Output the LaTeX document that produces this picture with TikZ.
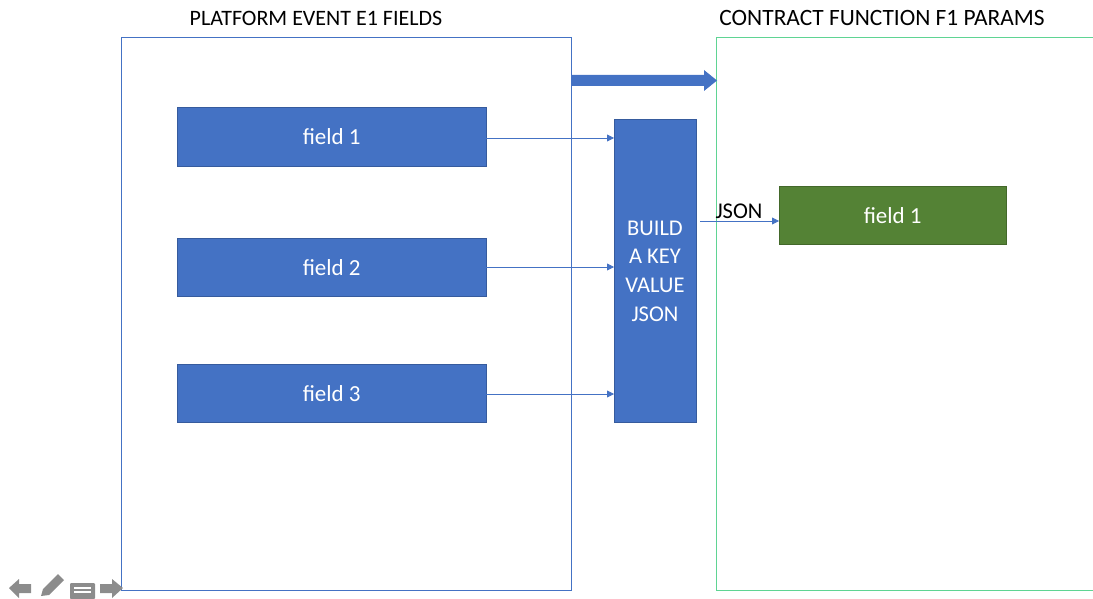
\documentclass[tikz,border=0pt]{standalone}
\usepackage{fontspec}
\setmainfont{Carlito}
\usetikzlibrary{arrows.meta,shapes.arrows}
\definecolor{ppblue}{HTML}{4472C4}
\definecolor{ppgreen}{HTML}{548235}
\definecolor{lgreen}{HTML}{5FD493}
\definecolor{icon}{HTML}{8C8C8C}
\begin{document}
\begin{tikzpicture}[x=1pt,y=-1pt,
  frame/.style={draw, line width=0.9pt},
  field/.style={draw=ppblue!80!black, line width=0.4pt, fill=ppblue, text=white, font=\fontsize{23}{26}\selectfont, inner sep=0pt},
  conn/.style={draw=ppblue, line width=0.8pt, -{Triangle[length=7pt,width=7pt]}},
  title/.style={font=\fontsize{22}{24}\selectfont, text=black}
]
\useasboundingbox (0,0) rectangle (1093,599);
% frames
\node[frame, draw=ppblue, minimum width=450pt, minimum height=553pt, anchor=north west, inner sep=0pt] (left) at (121,37) {};
\path[frame, draw=lgreen] (1093,37) -- (716,37) -- (716,590) -- (1093,590);
\coordinate (rtl) at (716,37);
\node[title] (ltitle) at (316,18) {PLATFORM EVENT E1 FIELDS};
\node[title, font=\fontsize{23.4}{25}\selectfont] (rtitle) at (882,18) {CONTRACT FUNCTION F1 PARAMS};
% fields
\node[field, minimum width=309pt, minimum height=59pt, anchor=north west] (f1) at (177,107) {field 1};
\node[field, minimum width=309pt, minimum height=58pt, anchor=north west] (f2) at (177,238) {field 2};
\node[field, minimum width=309pt, minimum height=58pt, anchor=north west] (f3) at (177,364) {field 3};
\node[field, minimum width=82pt, minimum height=303pt, anchor=north west] (build) at (614,119) {};
\node[text=white, align=center, font=\fontsize{22.5}{28.6}\selectfont] (buildtxt) at (655,271) {BUILD\\A KEY\\VALUE\\JSON};
\node[field, fill=ppgreen, draw=ppgreen!80!black, minimum width=227pt, minimum height=58pt, anchor=north west] (g1) at (779,186) {field 1};
% connectors
\draw[conn] (f1.east |- 0,138) -- (build.west |- 0,138);
\draw[conn] (f2.east |- 0,267) -- (build.west |- 0,267);
\draw[conn] (f3.east |- 0,394) -- (build.west |- 0,394);
\coordinate (js) at (700,221);
\draw[conn] (js) -- (g1.west |- js);
\node[font=\fontsize{22.5}{24}\selectfont, text=black] (jsonlbl) at (739,211) {JSON};
% big arrow
\fill[ppblue] (571,75) -- (704,75) -- (704,70) -- (717,80.5) -- (704,91) -- (704,86) -- (571,86) -- cycle;
% presentation icons
\begin{scope}[fill=icon]
\fill (9,588) -- (19,579) -- (19,584) -- (31,584) -- (31,593) -- (19,593) -- (19,598) -- cycle;
\fill (41,596) -- (43,589) -- (58,574) -- (64,580) -- (49,595) -- cycle;
\fill[rounded corners=1pt] (70,583) rectangle (95,599);
\fill[white] (74,587) rectangle (91,589);
\fill[white] (74,591) rectangle (91,593);
\fill (100,584) -- (112,584) -- (112,579) -- (123,588) -- (112,598) -- (112,593) -- (100,593) -- cycle;
\end{scope}
\end{tikzpicture}
\end{document}
